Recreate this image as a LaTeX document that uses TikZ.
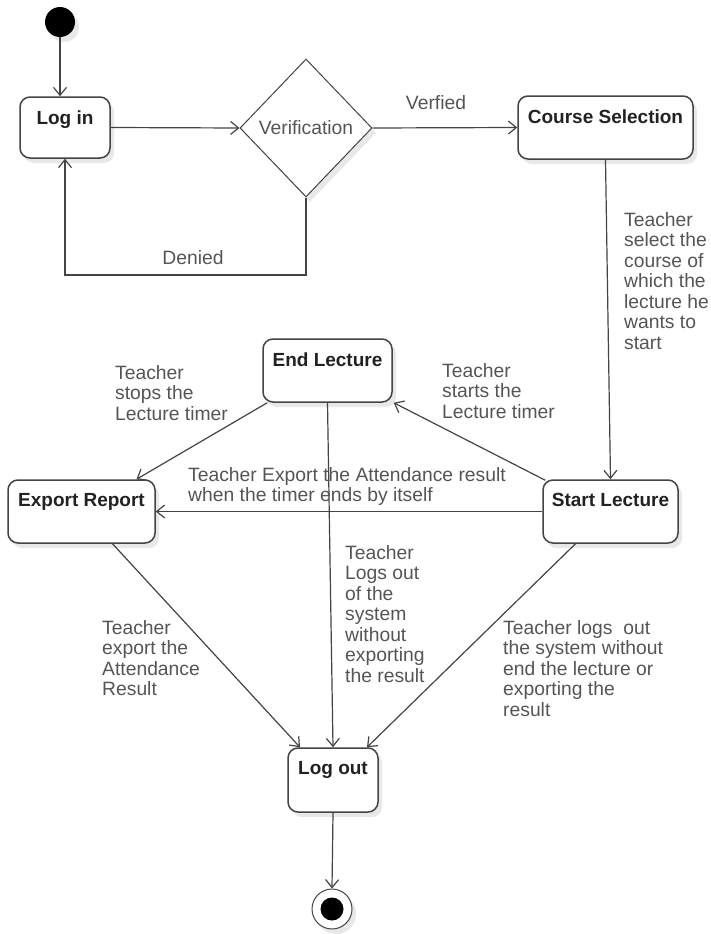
\documentclass[tikz,border=0pt]{standalone}
\usepackage{fontspec}
\setmainfont{Liberation Sans}
\usetikzlibrary{shapes.geometric,arrows.meta,shadows,calc}
\definecolor{linec}{HTML}{444444}
\definecolor{labc}{HTML}{555555}
\definecolor{boxtxt}{HTML}{222222}
\begin{document}
\begin{tikzpicture}[x=1pt,y=-1pt,
  line/.style={draw=linec, line width=1.2pt},
  arr/.style={line, -{Straight Barb[length=8pt,width=13pt]}},
  shad/.style={drop shadow={shadow xshift=4pt, shadow yshift=-5pt, fill=black!9, opacity=1}},
  statebox/.style={draw=linec, line width=1.5pt, rounded corners=10pt, fill=white, shad,
    inner sep=0pt,
    label={[font=\fontsize{19}{20.5}\selectfont\bfseries, text=boxtxt, anchor=north, inner sep=0pt, yshift=-14pt]north:#1}},
  lab/.style={font=\fontsize{19.3}{20.5}\selectfont, text=labc, align=left, inner sep=0pt}
]
\useasboundingbox[fill=white] (0,0) rectangle (711,934);

% nodes
\node[circle, fill=black, minimum size=30pt, inner sep=0pt, shad] (init) at (60,22) {};
\node[statebox=Log in, minimum width=90pt, minimum height=61pt] (login) at (65,127.5) {};
\node[diamond, draw=linec, line width=1pt, fill=white, shad, minimum width=132pt, minimum height=138pt, inner sep=0pt,
  label={[lab]center:Verification}] (ver) at (306,128) {};
\node[statebox=Course Selection, minimum width=175pt, minimum height=63pt] (course) at (605.5,127.5) {};
\node[statebox=Start Lecture, minimum width=135pt, minimum height=63pt] (startl) at (610.5,511.5) {};
\node[statebox=End Lecture, minimum width=129pt, minimum height=63pt] (endl) at (327.5,370.5) {};
\node[statebox=Export Report, minimum width=147pt, minimum height=63pt] (export) at (81.5,511.5) {};
\node[statebox=Log out, minimum width=90pt, minimum height=64pt] (logout) at (333,780) {};
\node[circle, draw=linec, line width=1pt, fill=white, shad, minimum size=40pt, inner sep=0pt] (final) at (332,909) {};
\node[circle, fill=black, minimum size=23pt, inner sep=0pt] (finaldot) at (final) {};

% connectors
\coordinate (dn) at (0,275);
\draw[arr] (init.south) -- (init.south |- login.north);
\draw[arr] (login.east) -- (ver.west);
\draw[arr] (ver.east) -- (course.west);
\draw[arr] (ver.south) |- (login.south |- dn) -- (login.south);
\draw[arr] (course.south) -- (startl.north);
\draw[arr] ([xshift=3pt,yshift=-1pt]startl.north west) -- ([xshift=1pt]endl.south east);
\draw[arr] ([xshift=5pt]endl.south west) -- ([xshift=55pt]export.north);
\draw[arr] (startl.west) -- (export.east);
\draw[arr] (endl.south) -- (logout.north);
\draw[arr] ([xshift=31pt]export.south) -- ([xshift=-33pt]logout.north);
\draw[arr] ([xshift=-35pt]startl.south) -- ([xshift=34pt]logout.north);
\draw[arr] (logout.south) -- (final.north);

% labels
\node[lab] (lverf) at (436,103) {Verfied};
\node[lab] (lden) at (193,257.5) {Denied};
\node[lab, anchor=north west] (lsel) at (624,212) {Teacher\\select the\\course of\\which the\\lecture he\\wants to\\start};
\node[lab, anchor=north west] (lstop) at (115,365) {Teacher\\stops the\\Lecture timer};
\node[lab, anchor=north west] (lstart) at (442,363) {Teacher\\starts the\\Lecture timer};
\node[lab, anchor=north west] (lexp) at (188,467) {Teacher Export the Attendance result\\when the timer ends by itself};
\node[lab, anchor=north west] (lout1) at (345,545) {Teacher\\Logs out\\of the\\system\\without\\exporting\\the result};
\node[lab, anchor=north west] (lout2) at (102,620) {Teacher\\export the\\Attendance\\Result};
\node[lab, anchor=north west] (lout3) at (503,620) {Teacher logs\ \ out\\the system without\\end the lecture or\\exporting the\\result};
\end{tikzpicture}
\end{document}
